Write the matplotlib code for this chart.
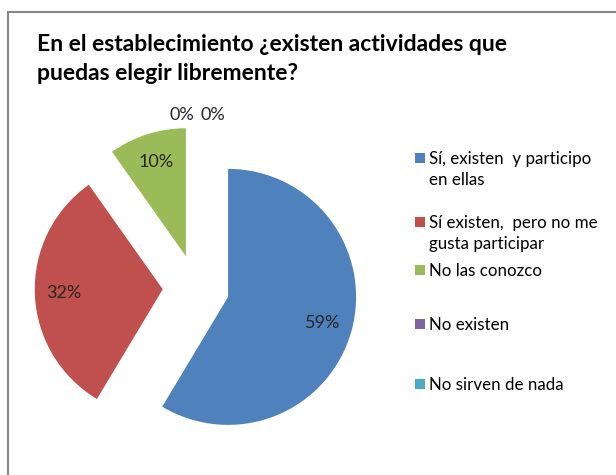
import matplotlib
matplotlib.use("Agg")
import matplotlib.pyplot as plt
from matplotlib.patches import Rectangle

plt.rcParams['font.family'] = ['Lato', 'DejaVu Sans']

title_lines = ["En el establecimiento ¿existen actividades que",
               "puedas elegir libremente?"]
categories = ["Sí, existen  y participo\nen ellas",
              "Sí existen,  pero no me\ngusta participar",
              "No las conozco",
              "No existen",
              "No sirven de nada"]
values = [58.6, 31.6, 9.8, 0.0, 0.0]
colors = ["#4F81BD", "#C0504D", "#9BBB59", "#8064A2", "#4BACC6"]

W, H = 616, 475
fig = plt.figure(figsize=(W / 100, H / 100), dpi=100)

# outer frame
fig.patches.append(Rectangle((8 / W, -0.1), 1.2, (H - 12) / H + 0.1, transform=fig.transFigure,
                             fill=False, edgecolor="#868686", linewidth=1.5))

# pie axes: center (196, 288) px, radius 128 px
scale = 128.0
lim = 1.4
cx, cy = 196, 288
aw = 2 * lim * scale
ax = fig.add_axes([(cx - aw / 2) / W, (H - cy - aw / 2) / H, aw / W, aw / H])
wedges, texts, autotexts = ax.pie(values, colors=colors, startangle=90, counterclock=False,
                                  explode=[0.26] * len(values), radius=1.0,
                                  autopct=lambda p: "%.0f%%" % p, pctdistance=0.77,
                                  wedgeprops=dict(linewidth=0),
                                  textprops=dict(fontsize=13, color="#262626"))
ax.set_xlim(-lim, lim)
ax.set_ylim(-lim, lim)
ax.set_aspect('equal')
ax.axis('off')

# zero-value labels sit above the pie, side by side
zero_offsets = [-0.11, 0.13]
k = 0
for v, t in zip(values, autotexts):
    t.set_clip_on(False)
    if v == 0:
        t.set_position((zero_offsets[k], 1.35))
        k += 1

for line, base in zip(title_lines, [51, 80]):
    fig.text(37 / W, 1 - base / H, line, fontsize=16.5, fontweight='bold', ha='left',
             va='baseline', color='black')

# legend
leg_base = [164, 228, 276, 330, 390]
for lab, col, b in zip(categories, colors, leg_base):
    fig.patches.append(Rectangle((415 / W, 1 - (b - 1) / H), 10 / W, 10 / H, transform=fig.transFigure,
                                 facecolor=col, edgecolor='none'))
    lines = lab.split("\n")
    for i, ln in enumerate(lines):
        fig.text(429 / W, 1 - (b + 21 * i) / H, ln, fontsize=12.2, ha='left', va='baseline',
                 color='black')

fig.savefig("out.png", dpi=100)
